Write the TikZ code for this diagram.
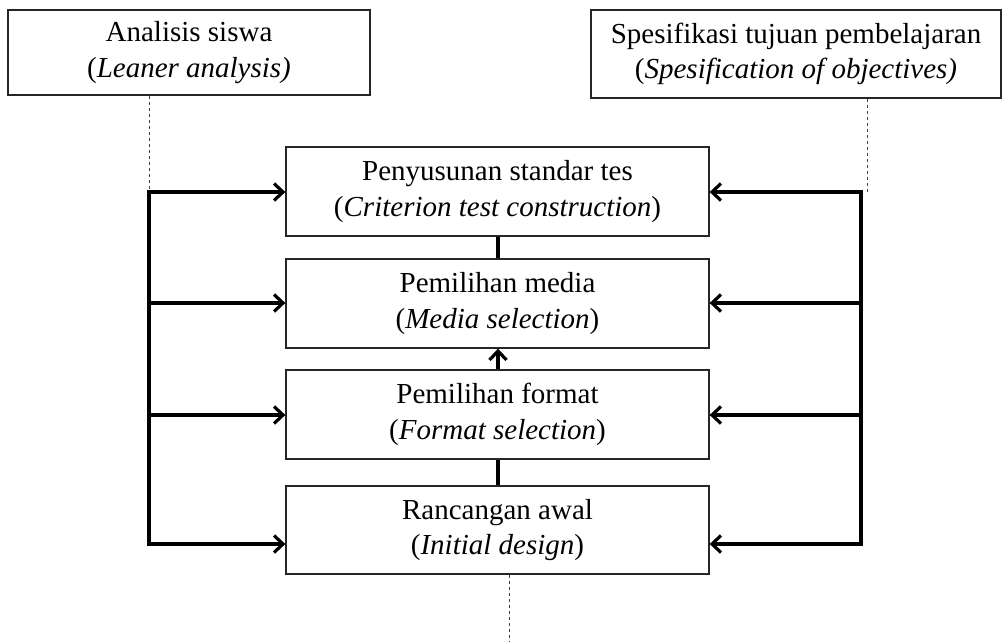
\documentclass[tikz,border=0pt]{standalone}
\usepackage{fontspec}
\setmainfont{Liberation Serif}
\usetikzlibrary{arrows.meta}
\begin{document}
\begin{tikzpicture}[x=1pt,y=-1pt,
  box/.style={draw=black!85, line width=1.3pt, inner sep=0pt, align=center,
    font=\fontsize{29}{35.5}\selectfont},
  bus/.style={line width=3.6pt, line cap=rect},
  arr/.style={line width=3.6pt, -{Straight Barb[length=9pt,width=17pt,line width=3.2pt]}},
  link/.style={line width=3.6pt},
  guide/.style={line width=1pt, black!75, dash pattern=on 3.5pt off 2.5pt}]
  \useasboundingbox (0,0) rectangle (1003,641);

  % upper inputs
  \node[box, minimum width=362pt, minimum height=85pt] (learner) at (189,52.5)
    {Analisis siswa\\(\textit{Leaner analysis)}};
  \node[box, minimum width=410pt, minimum height=88pt] (objectives) at (796,54)
    {Spesifikasi tujuan pembelajaran\\(\textit{Spesification of objectives)}};

  % design steps
  \node[box, minimum width=423pt, minimum height=89pt] (test) at (497.5,191.5)
    {Penyusunan standar tes\\(\textit{Criterion test construction})};
  \node[box, minimum width=423pt, minimum height=89pt] (media) at (497.5,303.5)
    {Pemilihan media\\(\textit{Media selection})};
  \node[box, minimum width=423pt, minimum height=89pt] (format) at (497.5,414.5)
    {Pemilihan format\\(\textit{Format selection})};
  \node[box, minimum width=423pt, minimum height=88pt] (initial) at (497.5,530)
    {Rancangan awal\\(\textit{Initial design})};

  % bus lines on both sides
  \coordinate (L1) at (149,192);
  \coordinate (L2) at (149,303);
  \coordinate (L3) at (149,415);
  \coordinate (L4) at (149,544);
  \coordinate (R1) at (861,192);
  \coordinate (R2) at (861,303);
  \coordinate (R3) at (861,415);
  \coordinate (R4) at (861,544);
  \coordinate (Rd) at (867,192);
  \coordinate (B) at (509,641);

  \draw[guide] (L1 |- learner.south) -- (L1);
  \draw[guide] (Rd |- objectives.south) -- (Rd);
  \draw[guide] (B |- initial.south) -- (B);

  \draw[bus] (L1) -- (L4);
  \draw[bus] (R1) -- (R4);

  \draw[arr] (L1) -- (L1 -| test.west);
  \draw[arr] (L2) -- (L2 -| media.west);
  \draw[arr] (L3) -- (L3 -| format.west);
  \draw[arr] (L4) -- (L4 -| initial.west);
  \draw[arr] (R1) -- (R1 -| test.east);
  \draw[arr] (R2) -- (R2 -| media.east);
  \draw[arr] (R3) -- (R3 -| format.east);
  \draw[arr] (R4) -- (R4 -| initial.east);

  % links between the steps
  \draw[link] ([xshift=0.5pt]test.south) -- ([xshift=0.5pt]media.north);
  \draw[arr] ([xshift=0.5pt]format.north) -- ([xshift=0.5pt]media.south);
  \draw[link] ([xshift=0.5pt]initial.north) -- ([xshift=0.5pt]format.south);
\end{tikzpicture}
\end{document}
